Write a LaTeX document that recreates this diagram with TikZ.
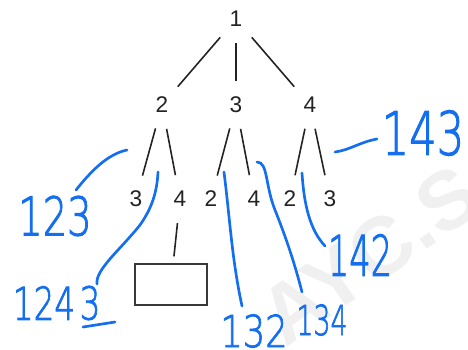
\documentclass[tikz,border=0pt]{standalone}
\usepackage{fontspec}
\setmainfont{Liberation Sans}
\newfontfamily\handfont[FakeBold=2]{DejaVu Sans ExtraLight}
\definecolor{inkblue}{RGB}{20,110,240}
\definecolor{treeline}{RGB}{35,35,35}
\newcommand{\handsize}[1]{\handfont\fontsize{#1}{#1}\selectfont}

\begin{document}
\begin{tikzpicture}[
    x=0.75pt, y=-0.75pt,
    vert/.style={circle, minimum size=30pt, inner sep=0pt, text=treeline,
                 font=\fontsize{17}{19}\selectfont},
    branch/.style={draw=treeline, line width=1.2pt, shorten <=3pt, shorten >=3pt},
    hand/.style={text=inkblue, inner sep=0pt},
    stroke/.style={draw=inkblue, line width=2pt, line cap=round}
]
\useasboundingbox (0,0) rectangle (468,350);

% watermark
\node[text=gray!12, rotate=35, font=\bfseries\fontsize{62}{62}\selectfont] (mark) at (370,255) {AYC.S};

% Root
\node[vert] (r) at (236,19) {1};

% Second level
\node[vert] (a) at (162,105) {2};
\node[vert] (b) at (236,105) {3};
\node[vert] (c) at (310,105) {4};

% Third level
\node[vert] (a1) at (136,199) {3};
\node[vert] (a2) at (180,199) {4};
\node[vert] (b1) at (211,199) {2};
\node[vert] (b2) at (254,199) {4};
\node[vert] (c1) at (290,199) {2};
\node[vert] (c2) at (330,199) {3};

% Empty box
\node[draw=treeline!90, line width=1.3pt, minimum width=54pt, minimum height=31pt,
      inner sep=0pt] (box) at (171,284.5) {};

% Branches
\draw[branch] (r) -- (a);
\draw[branch] (r) -- (b);
\draw[branch] (r) -- (c);
\draw[branch] (a) -- (a1);
\draw[branch] (a) -- (a2);
\draw[branch] (b) -- (b1);
\draw[branch] (b) -- (b2);
\draw[branch] (c) -- (c1);
\draw[branch] (c) -- (c2);
\draw[branch, shorten >=5pt] (a2) -- (box);

% Handwritten labels
\node[hand, font=\handsize{45}, xscale=0.72] (l143) at (423,133) {143};
\node[hand, font=\handsize{40}, xscale=0.72] (l123) at (55,216) {123};
\node[hand, font=\handsize{34}, xscale=0.72] (l124) at (44,303) {124};
\node[hand, font=\handsize{34}, xscale=0.72] (l1243) at (90,303) {3};
\node[hand, font=\handsize{33}, xscale=0.8] (l132) at (254,331) {132};
\node[hand, font=\handsize{31}, xscale=0.65] (l134) at (322,320) {134};
\node[hand, font=\handsize{42}, xscale=0.6] (l142) at (360,255) {142};

% Strokes
\coordinate (s123a) at (76,190);
\coordinate (s123b) at (127,150);
\coordinate (s124a) at (97,284);
\coordinate (s124m) at (140,225);
\coordinate (s124b) at (158,172);
\coordinate (s132a) at (242,306);
\coordinate (s132b) at (224,172);
\coordinate (s134a) at (302,292);
\coordinate (s134m) at (275,210);
\coordinate (s134b) at (257,162);
\coordinate (s142a) at (325,246);
\coordinate (s142b) at (302,173);
\coordinate (s143a) at (377,139);
\coordinate (s143b) at (335,152);
\coordinate (u3a) at (83,327);
\coordinate (u3b) at (115,322);

\draw[stroke] (s123a) .. controls (92,170) and (108,154) .. (s123b);
\draw[stroke] (s124a) .. controls (95,270) and (120,250) .. (s124m)
              .. controls (152,208) and (157,192) .. (s124b);
\draw[stroke] (s132a) .. controls (232,260) and (230,220) .. (s132b);
\draw[stroke] (s134a) .. controls (295,265) and (287,240) .. (s134m)
              .. controls (265,185) and (268,162) .. (s134b);
\draw[stroke] (s142a) .. controls (310,230) and (304,205) .. (s142b);
\draw[stroke] (s143a) .. controls (360,142) and (350,150) .. (s143b);
\draw[stroke] (u3a) -- (u3b);

\end{tikzpicture}
\end{document}
